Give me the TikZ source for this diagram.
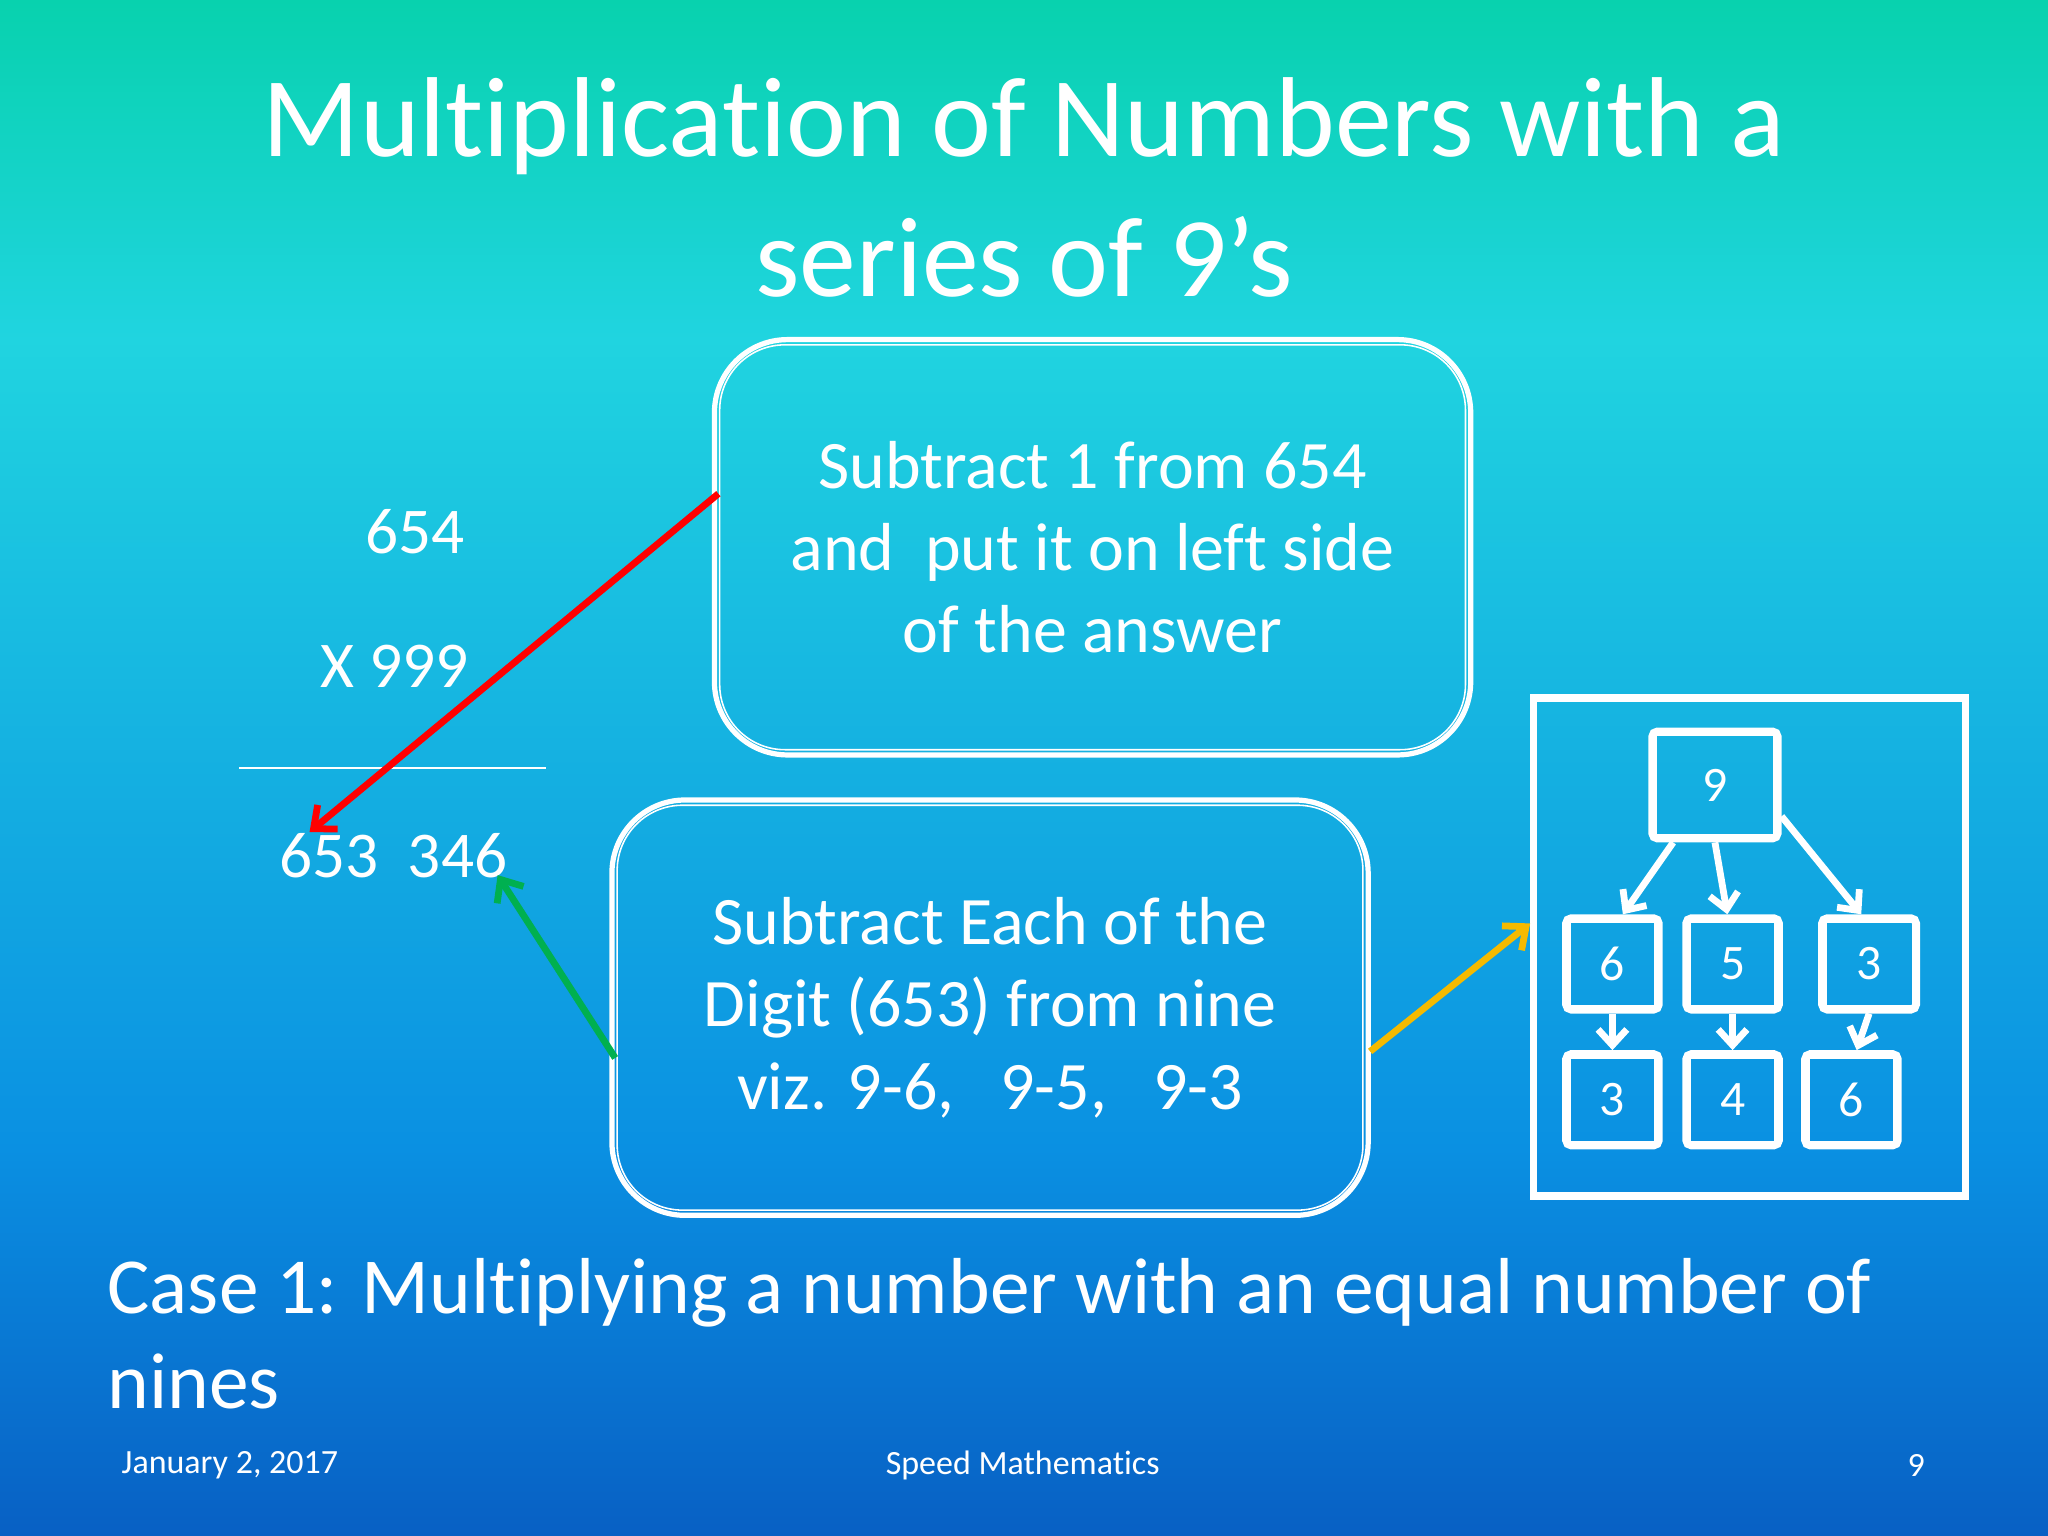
\documentclass[tikz,border=0pt]{standalone}
\usepackage{fontspec}
\setmainfont[Ligatures={NoCommon}]{Carlito}
\usetikzlibrary{arrows.meta}
\definecolor{bgA}{HTML}{08D2AE}
\definecolor{bgB}{HTML}{20D4E0}
\definecolor{bgC}{HTML}{0A90E2}
\definecolor{bgD}{HTML}{0860C4}
\definecolor{gold}{HTML}{F5BA00}
\definecolor{grn}{HTML}{00B050}
\tikzset{
  txt/.style={text=white,inner sep=0pt},
  rbox/.style={draw=white,line width=2pt,rounded corners=28pt,minimum width=289.5pt,minimum height=159pt,align=center,text=white,font=\fontsize{26}{31.5}\selectfont},
  tbox/.style={draw=white,line width=3pt,rounded corners=2pt,text=white,font=\fontsize{19}{20}\selectfont},
  arr/.style={line width=2.6pt,-{Straight Barb[length=7pt,width=12pt]}},
  tarr/.style={white,line width=2.6pt,-{Straight Barb[length=6pt,width=11pt]}},
}
\begin{document}
\begin{tikzpicture}[x=0.5pt,y=-0.5pt]
\useasboundingbox (0,0) rectangle (1568,1176);
\shade[top color=bgA,bottom color=bgB] (0,0) rectangle (1568,260);
\shade[top color=bgB,bottom color=bgC] (0,259) rectangle (1568,880);
\shade[top color=bgC,bottom color=bgD] (0,879) rectangle (1568,1176);
% title
\node[txt,font=\fontsize{43.5}{50}\selectfont] (t1) at (784,97) {Multiplication of Numbers with a};
\node[txt,font=\fontsize{43.5}{50}\selectfont] (t2) at (784,197) {series of 9’s};
% boxes
\node[rbox] (b1) at (836.5,419) {Subtract 1 from 654\\and\ \ put it on left side\\of the answer};
\draw[white,line width=0.6pt,rounded corners=25pt] ([shift={(6,6)}]b1.north west) rectangle ([shift={(-6,-6)}]b1.south east);
\node[rbox] (b2) at (758,771.5) {Subtract Each of the\\Digit (653) from nine\\viz. 9-6,\ \ \ 9-5,\ \ \ 9-3};
\draw[white,line width=0.6pt,rounded corners=25pt] ([shift={(6,6)}]b2.north west) rectangle ([shift={(-6,-6)}]b2.south east);
% sum
\node[txt,font=\fontsize{25}{28}\selectfont] (n1) at (318,407) {654};
\node[txt,font=\fontsize{25}{28}\selectfont] (n2) at (302,510) {X 999};
\coordinate (l1) at (183,588); \coordinate (l2) at (418,588);
\draw[white,line width=0.4pt] (l1) -- (l2);
\node[txt,font=\fontsize{25}{28}\selectfont] (n3) at (301,655) {653\ \ 346};
% arrows
\coordinate (rs) at (550,378); \coordinate (re) at (237,637);
\draw[arr,red] (rs) -- (re);
\coordinate (gs) at (471,810); \coordinate (ge) at (381,670);
\draw[arr,grn] (gs) -- (ge);
% tree
\node[draw=white,line width=2.5pt,minimum width=165.5pt,minimum height=191pt,inner sep=0pt] (tb) at (1339.5,725) {};
\draw[white,line width=0.6pt] ([shift={(5,5)}]tb.north west) rectangle ([shift={(-5,-5)}]tb.south east);
\coordinate (ys) at (1049,805);
\draw[arr,gold] (ys) -- (tb.west |- 0,707);
\node[tbox,minimum width=48pt,minimum height=41pt] (r) at (1313,601) {9};
\foreach \n/\x/\y/\l/\w in {a/1234.5/738/6/35.5, b/1326.5/738/5/35.5, c/1431/738/3/36, d/1234.5/842/3/35.5, e/1326.5/842/4/35.5, f/1417.5/842/6/35.5}{
  \node[tbox,minimum width=\w pt,minimum height=35pt] (\n) at (\x,\y) {\l};
}
\foreach \n in {r,a,b,c,d,e,f}{
  \draw[white,line width=0.5pt] ([shift={(6,6)}]\n.north west) rectangle ([shift={(-6,-6)}]\n.south east);
}
\draw[tarr] ([xshift=-16]r.south) -- ([xshift=4]a.north);
\draw[tarr] (r.south) -- ([xshift=-2]b.north);
\draw[tarr] ([yshift=-12]r.east) -- ([xshift=-3]c.north);
\draw[tarr] (a.south) -- (d.north);
\draw[tarr] (b.south) -- (e.north);
\draw[tarr] (c.south) -- ([xshift=2]f.north);
% bottom text
\node[txt,anchor=base west,font=\fontsize{30.4}{30}\selectfont] (c1) at (82,1006) {Case 1: Multiplying a number with an equal number of};
\node[txt,anchor=base west,font=\fontsize{30.4}{30}\selectfont] (c2) at (82,1078) {nines};
\node[txt,font=\fontsize{13}{14}\selectfont] (f1) at (176,1122) {January 2, 2017};
\node[txt,font=\fontsize{13}{14}\selectfont] (f2) at (783,1122) {Speed Mathematics};
\node[txt,font=\fontsize{13}{14}\selectfont] (f3) at (1467,1122) {9};
\end{tikzpicture}
\end{document}
